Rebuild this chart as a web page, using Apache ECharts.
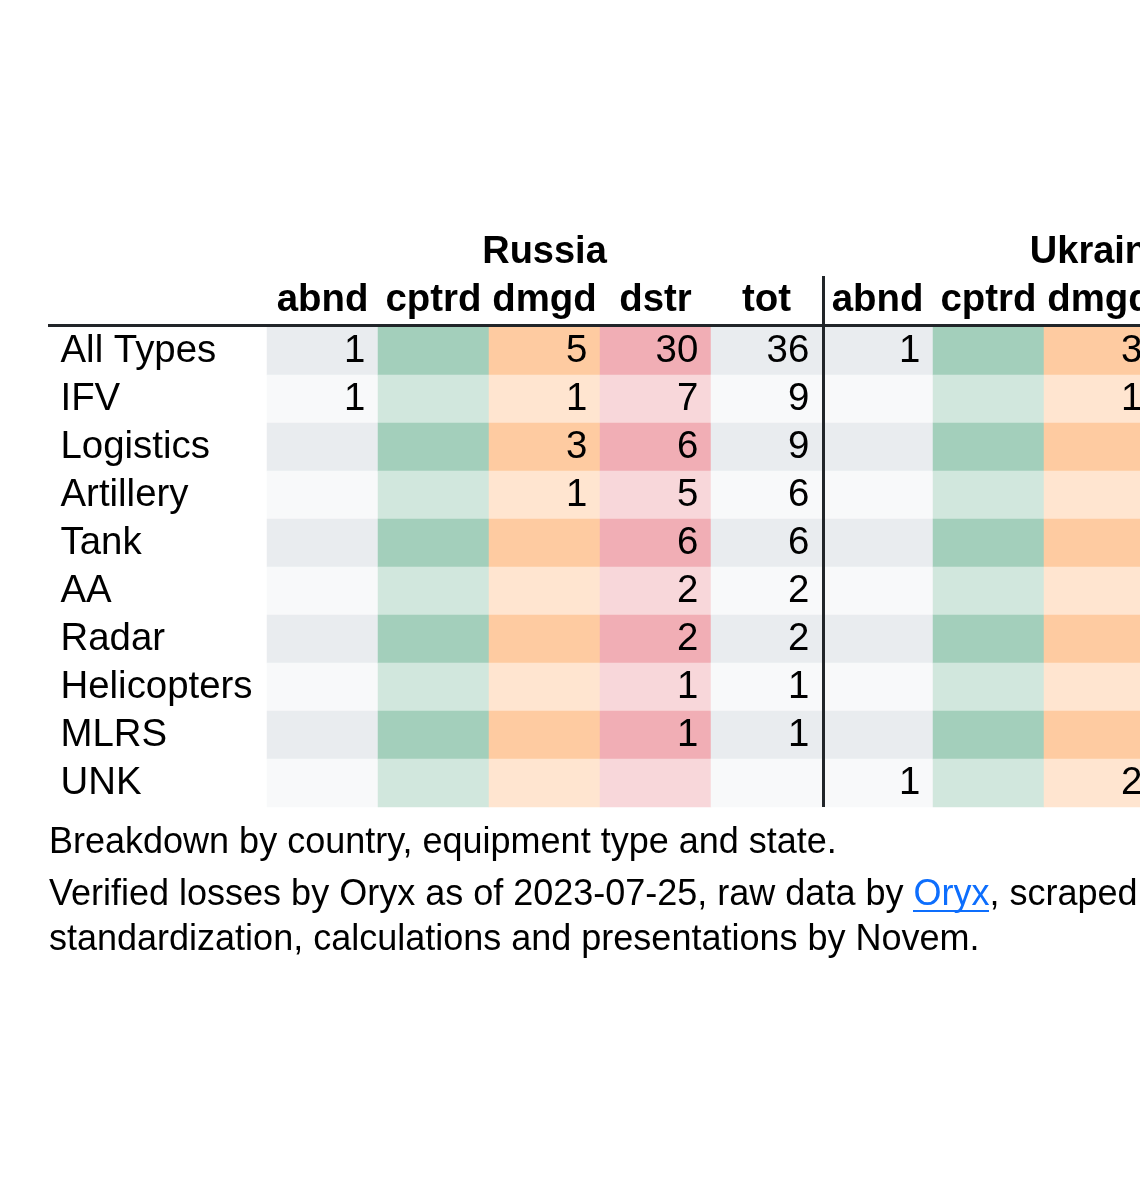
<!DOCTYPE html>
<html>
<head>
<meta charset="utf-8">
<script src="https://cdn.jsdelivr.net/npm/echarts@6.0.0/dist/echarts.min.js"></script>
<style>
html,body{margin:0;padding:0;background:#fff;overflow:hidden;}
#chart{width:1140px;height:1182px;}
</style>
</head>
<body>
<div id="chart"></div>
<script>
// ---- data ----
const rowLabels = ['All Types','IFV','Logistics','Artillery','Tank','AA','Radar','Helicopters','MLRS','UNK'];
const stateLabels = ['abnd','cptrd','dmgd','dstr','tot','abnd','cptrd','dmgd','dstr','tot'];
const countries = ['Russia','Ukraine'];
const ruAbnd  = [1, 1, null, null, null, null, null, null, null, null];
const ruCptrd = [null, null, null, null, null, null, null, null, null, null];
const ruDmgd  = [5, 1, 3, 1, null, null, null, null, null, null];
const ruDstr  = [30, 7, 6, 5, 6, 2, 2, 1, 1, null];
const ruTot   = [36, 9, 9, 6, 6, 2, 2, 1, 1, null];
const uaAbnd  = [1, null, null, null, null, null, null, null, null, 1];
const uaCptrd = [null, null, null, null, null, null, null, null, null, null];
const uaDmgd  = [3, 1, null, null, null, null, null, null, null, 2];
const footerLine1 = 'Breakdown by country, equipment type and state.';
const footerLine2a = 'Verified losses by Oryx as of 2023-07-25, raw data by ';
const footerLink = 'Oryx';
const footerLine2b = ', scraped';
const footerLine3 = 'standardization, calculations and presentations by Novem.';

// ---- build ----
const palette = {
  abnd: ['#e9ecef', '#f8f9fa'],
  cptrd: ['#a3cfbb', '#d1e7dd'],
  dmgd: ['#fecba1', '#ffe5d0'],
  dstr: ['#f1aeb5', '#f8d7da'],
  tot: ['#e9ecef', '#f8f9fa']
};
const columns = [ruAbnd, ruCptrd, ruDmgd, ruDstr, ruTot, uaAbnd, uaCptrd, uaDmgd];
const cells = [];
columns.forEach((col, c) => {
  const state = stateLabels[c];
  col.forEach((v, r) => {
    cells.push({
      value: [c, r, v == null ? 0 : v],
      itemStyle: { color: palette[state][r % 2] },
      label: { show: v != null }
    });
  });
});

const FONT = '"Liberation Sans", Arial, Helvetica, sans-serif';
const TXT = '#000';
const RULE = '#212529';
const FS = 38.4;

const chart = echarts.init(document.getElementById('chart'), null, { renderer: 'canvas' });
chart.setOption({
  animation: false,
  backgroundColor: '#fff',
  textStyle: { fontFamily: FONT },
  grid: [
    { left: 267, top: 327, width: 1110, height: 480, containLabel: false, outerBoundsMode: 'none' },
    { left: 267, top: 253, width: 1110, height: 1, containLabel: false, outerBoundsMode: 'none' }
  ],
  xAxis: [
    {
      type: 'category', gridIndex: 0, position: 'top', data: stateLabels,
      axisLine: { show: false }, axisTick: { show: false }, splitLine: { show: false },
      axisLabel: {
        interval: 0, margin: 27, verticalAlign: 'middle',
        fontSize: FS, fontWeight: 'bold', color: TXT, fontFamily: FONT
      }
    },
    {
      type: 'category', gridIndex: 1, position: 'top', data: countries,
      axisLine: { show: false }, axisTick: { show: false }, splitLine: { show: false },
      axisLabel: {
        interval: 0, margin: 0, verticalAlign: 'middle',
        fontSize: 38, fontWeight: 'bold', color: TXT, fontFamily: FONT
      }
    }
  ],
  yAxis: [
    {
      type: 'category', gridIndex: 0, inverse: true, data: rowLabels,
      axisLine: { show: false }, axisTick: { show: false }, splitLine: { show: false },
      axisLabel: {
        interval: 0, align: 'left', margin: 206.5, verticalAlign: 'middle',
        fontSize: FS, color: TXT, fontFamily: FONT
      }
    },
    {
      type: 'value', gridIndex: 1, show: false
    }
  ],
  title: [
    {
      left: 49, top: 822.8, padding: 0,
      text: footerLine1,
      textStyle: { fontSize: 36, fontWeight: 'normal', color: TXT, fontFamily: FONT, lineHeight: 40 }
    },
    {
      left: 49, top: 873, padding: 0,
      text: '{a|' + footerLine2a + '}{l|' + footerLink + '}{a|' + footerLine2b + '}\n{a|' + footerLine3 + '}',
      textStyle: {
        fontSize: 36, fontWeight: 'normal', color: TXT, fontFamily: FONT, lineHeight: 45,
        rich: {
          a: { fontSize: 36, color: TXT, fontFamily: FONT, lineHeight: 45 },
          l: { fontSize: 36, color: '#0d6efd', fontFamily: FONT, lineHeight: 45 }
        }
      }
    }
  ],
  series: [{
    type: 'heatmap',
    xAxisIndex: 0, yAxisIndex: 0,
    data: cells,
    label: {
      show: true, position: 'insideRight', distance: 13,
      fontSize: FS, color: TXT, fontFamily: FONT,
      formatter: p => String(p.value[2])
    },
    emphasis: { disabled: true },
    itemStyle: { borderWidth: 0 }
  }],
  graphic: [
    { type: 'line', z: 100, shape: { x1: 48, y1: 325.5, x2: 1140, y2: 325.5 }, style: { stroke: RULE, lineWidth: 3 } },
    { type: 'line', z: 100, shape: { x1: 823.5, y1: 276, x2: 823.5, y2: 807 }, style: { stroke: RULE, lineWidth: 3 } },
    { type: 'rect', z: 100, shape: { x: 913, y: 910, width: 76, height: 2 }, style: { fill: '#0d6efd' } }
  ]
});
</script>
</body>
</html>
